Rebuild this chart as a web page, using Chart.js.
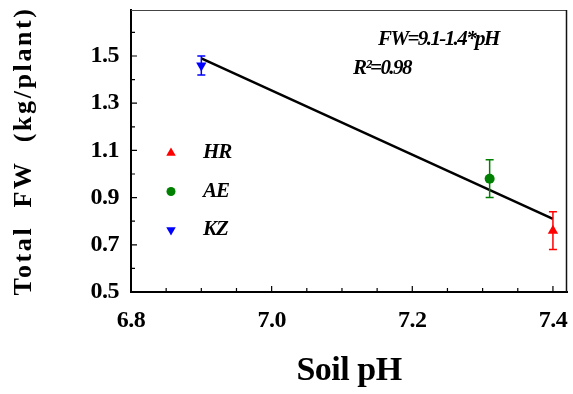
<!DOCTYPE html>
<html>
<head>
<meta charset="utf-8">
<script src="https://cdn.jsdelivr.net/npm/chart.js@4.4.0/dist/chart.umd.min.js"></script>
<style>
	html, body { margin: 0; padding: 0; background: #fff; }
	#wrap { width: 573px; height: 394px; }
</style>
</head>
<body>
<div id="wrap"><canvas id="myChart"></canvas></div>
<script>
// data
const sites = ['HR', 'AE', 'KZ']
const soilPH = [7.40, 7.31, 6.90]
const totalFW = [0.76, 0.98, 1.46]
const fwErr = [0.08, 0.08, 0.04]
const siteColors = ['#ff0000', '#008000', '#0000ff']
const siteMarkers = ['triangle', 'circle', 'triangle']
const siteRotation = [0, 0, 180]
const siteRadius = [6, 5, 6]

// regression line end points
const fitPH = [6.9, 7.4]
const fitFW = [1.49, 0.81]

const xTicks = [6.8, 7.0, 7.2, 7.4]
const yTicks = [0.5, 0.7, 0.9, 1.1, 1.3, 1.5]
const fitLabel = 'FW=9.1-1.4*pH'
const r2Label = 'R²=0.98'

const serif = '"Liberation Serif", "Times New Roman", serif'

var datasets = sites.map(function (s, i) {
	return {
		label: s,
		data: [{ x: soilPH[i], y: totalFW[i] }],
		backgroundColor: siteColors[i],
		borderColor: siteColors[i],
		pointStyle: siteMarkers[i],
		rotation: siteRotation[i],
		pointRadius: siteRadius[i],
		borderWidth: 0,
		errs: [fwErr[i]]
	}
})
datasets.push({
	type: 'line',
	label: 'fit',
	data: fitPH.map(function (x, i) { return { x: x, y: fitFW[i] } }),
	borderColor: '#000',
	borderWidth: 2.5,
	pointRadius: 0,
	fill: false
})

// error bars
const errorBars = {
	id: 'errorBars',
	afterDatasetsDraw(chart) {
		const ctx = chart.ctx
		const xs = chart.scales.x, ys = chart.scales.y
		ctx.save()
		chart.data.datasets.forEach(function (ds) {
			if (!ds.errs) return
			ds.data.forEach(function (p, j) {
				const px = xs.getPixelForValue(p.x)
				const top = ys.getPixelForValue(p.y + ds.errs[j])
				const bot = ys.getPixelForValue(p.y - ds.errs[j])
				ctx.strokeStyle = ds.borderColor
				ctx.lineWidth = 1.5
				ctx.beginPath()
				ctx.moveTo(px, top); ctx.lineTo(px, bot)
				ctx.moveTo(px - 4, top); ctx.lineTo(px + 4, top)
				ctx.moveTo(px - 4, bot); ctx.lineTo(px + 4, bot)
				ctx.stroke()
			})
		})
		ctx.restore()
	}
}

// frame, inward ticks, legend, equation and y title
const decorations = {
	id: 'decorations',
	beforeDraw(chart) {
		chart.ctx.letterSpacing = '-0.5px'
	},
	afterDraw(chart) {
		const ctx = chart.ctx
		const a = chart.chartArea
		const xs = chart.scales.x, ys = chart.scales.y
		ctx.save()
		ctx.letterSpacing = '0px'
		ctx.strokeStyle = '#444'
		ctx.lineWidth = 1
		ctx.beginPath()
		ctx.moveTo(a.left, a.top + 0.5); ctx.lineTo(a.right, a.top + 0.5)
		ctx.stroke()
		ctx.strokeStyle = '#111'
		ctx.lineWidth = 1.5
		ctx.beginPath()
		ctx.moveTo(a.right - 0.5, a.top); ctx.lineTo(a.right - 0.5, a.bottom)
		ctx.stroke()

		ctx.strokeStyle = '#000'
		ctx.lineWidth = 1.2
		ctx.beginPath()
		for (var k = 1; k < 13; k++) {
			var v = 6.8 + k * 0.05
			var px = xs.getPixelForValue(v)
			var len = (k % 4 === 0) ? 6 : 4
			ctx.moveTo(px, a.bottom); ctx.lineTo(px, a.bottom - len)
		}
		for (var k = 1; k < 12; k++) {
			var v = 0.5 + k * 0.1
			var py = ys.getPixelForValue(v)
			var len = (k % 2 === 0) ? 6 : 4
			ctx.moveTo(a.left, py); ctx.lineTo(a.left + len, py)
		}
		ctx.stroke()

		// legend
		ctx.textBaseline = 'middle'
		ctx.textAlign = 'left'
		ctx.font = 'italic bold 21px ' + serif
		ctx.letterSpacing = '-1px'
		sites.forEach(function (s, i) {
			var ly = 153 + i * 38.5
			ctx.fillStyle = siteColors[i]
			Chart.helpers.drawPoint(ctx, {
				pointStyle: siteMarkers[i],
				rotation: siteRotation[i],
				radius: i === 1 ? 4.5 : 5.5,
				borderWidth: 0
			}, 171, ly)
			ctx.fillStyle = '#000'
			ctx.fillText(s, 203, ly)
		})

		// equation
		ctx.font = 'italic bold 21px ' + serif
		ctx.letterSpacing = '-1.6px'
		ctx.fillText(fitLabel, 378, 40)
		ctx.fillText(r2Label, 353, 69)

		// y axis title
		ctx.translate(24, (a.top + a.bottom) / 2)
		ctx.rotate(-Math.PI / 2)
		ctx.textAlign = 'center'
		ctx.font = 'bold 26px ' + serif
		ctx.letterSpacing = '2.6px'
		ctx.fillText('Total  FW  (kg/plant)', 0, 0)
		ctx.restore()
	}
}

var ctx = document.getElementById('myChart')
var chart = new Chart(ctx, {
	type: 'scatter',
	data: { datasets: datasets },
	options: {
		responsive: true,
		maintainAspectRatio: false,
		animation: false,
		layout: { padding: { left: 0, top: 10, right: 3, bottom: 0 } },
		plugins: {
			legend: { display: false },
			tooltip: { enabled: false }
		},
		scales: {
			x: {
				type: 'linear',
				min: 6.8,
				max: 7.42,
				afterBuildTicks: function (s) { s.ticks = xTicks.map(function (v) { return { value: v } }) },
				afterFit: function (s) {
					s.height = 102
					s.paddingLeft = 0
					s.paddingRight = 0
				},
				grid: { drawOnChartArea: false, drawTicks: false },
				border: { color: '#000', width: 2 },
				ticks: {
					color: '#000',
					padding: 14,
					maxRotation: 0,
					font: { family: serif, size: 24, weight: 'bold' },
					callback: function (v) { return v.toFixed(1) }
				},
				title: {
					display: true,
					text: 'Soil pH',
					color: '#000',
					padding: { top: 0, bottom: 2 },
					font: { family: serif, size: 34, weight: 'bold' }
				}
			},
			y: {
				min: 0.5,
				max: 1.695,
				afterBuildTicks: function (s) { s.ticks = yTicks.map(function (v) { return { value: v } }) },
				afterFit: function (s) {
					s.width = 131
					s.paddingTop = 0
					s.paddingBottom = 0
				},
				grid: { drawOnChartArea: false, drawTicks: false },
				border: { color: '#000', width: 2 },
				ticks: {
					color: '#000',
					padding: 12,
					font: { family: serif, size: 24, weight: 'bold' },
					callback: function (v) { return v.toFixed(1) }
				}
			}
		}
	},
	plugins: [errorBars, decorations]
})
</script>
</body>
</html>
